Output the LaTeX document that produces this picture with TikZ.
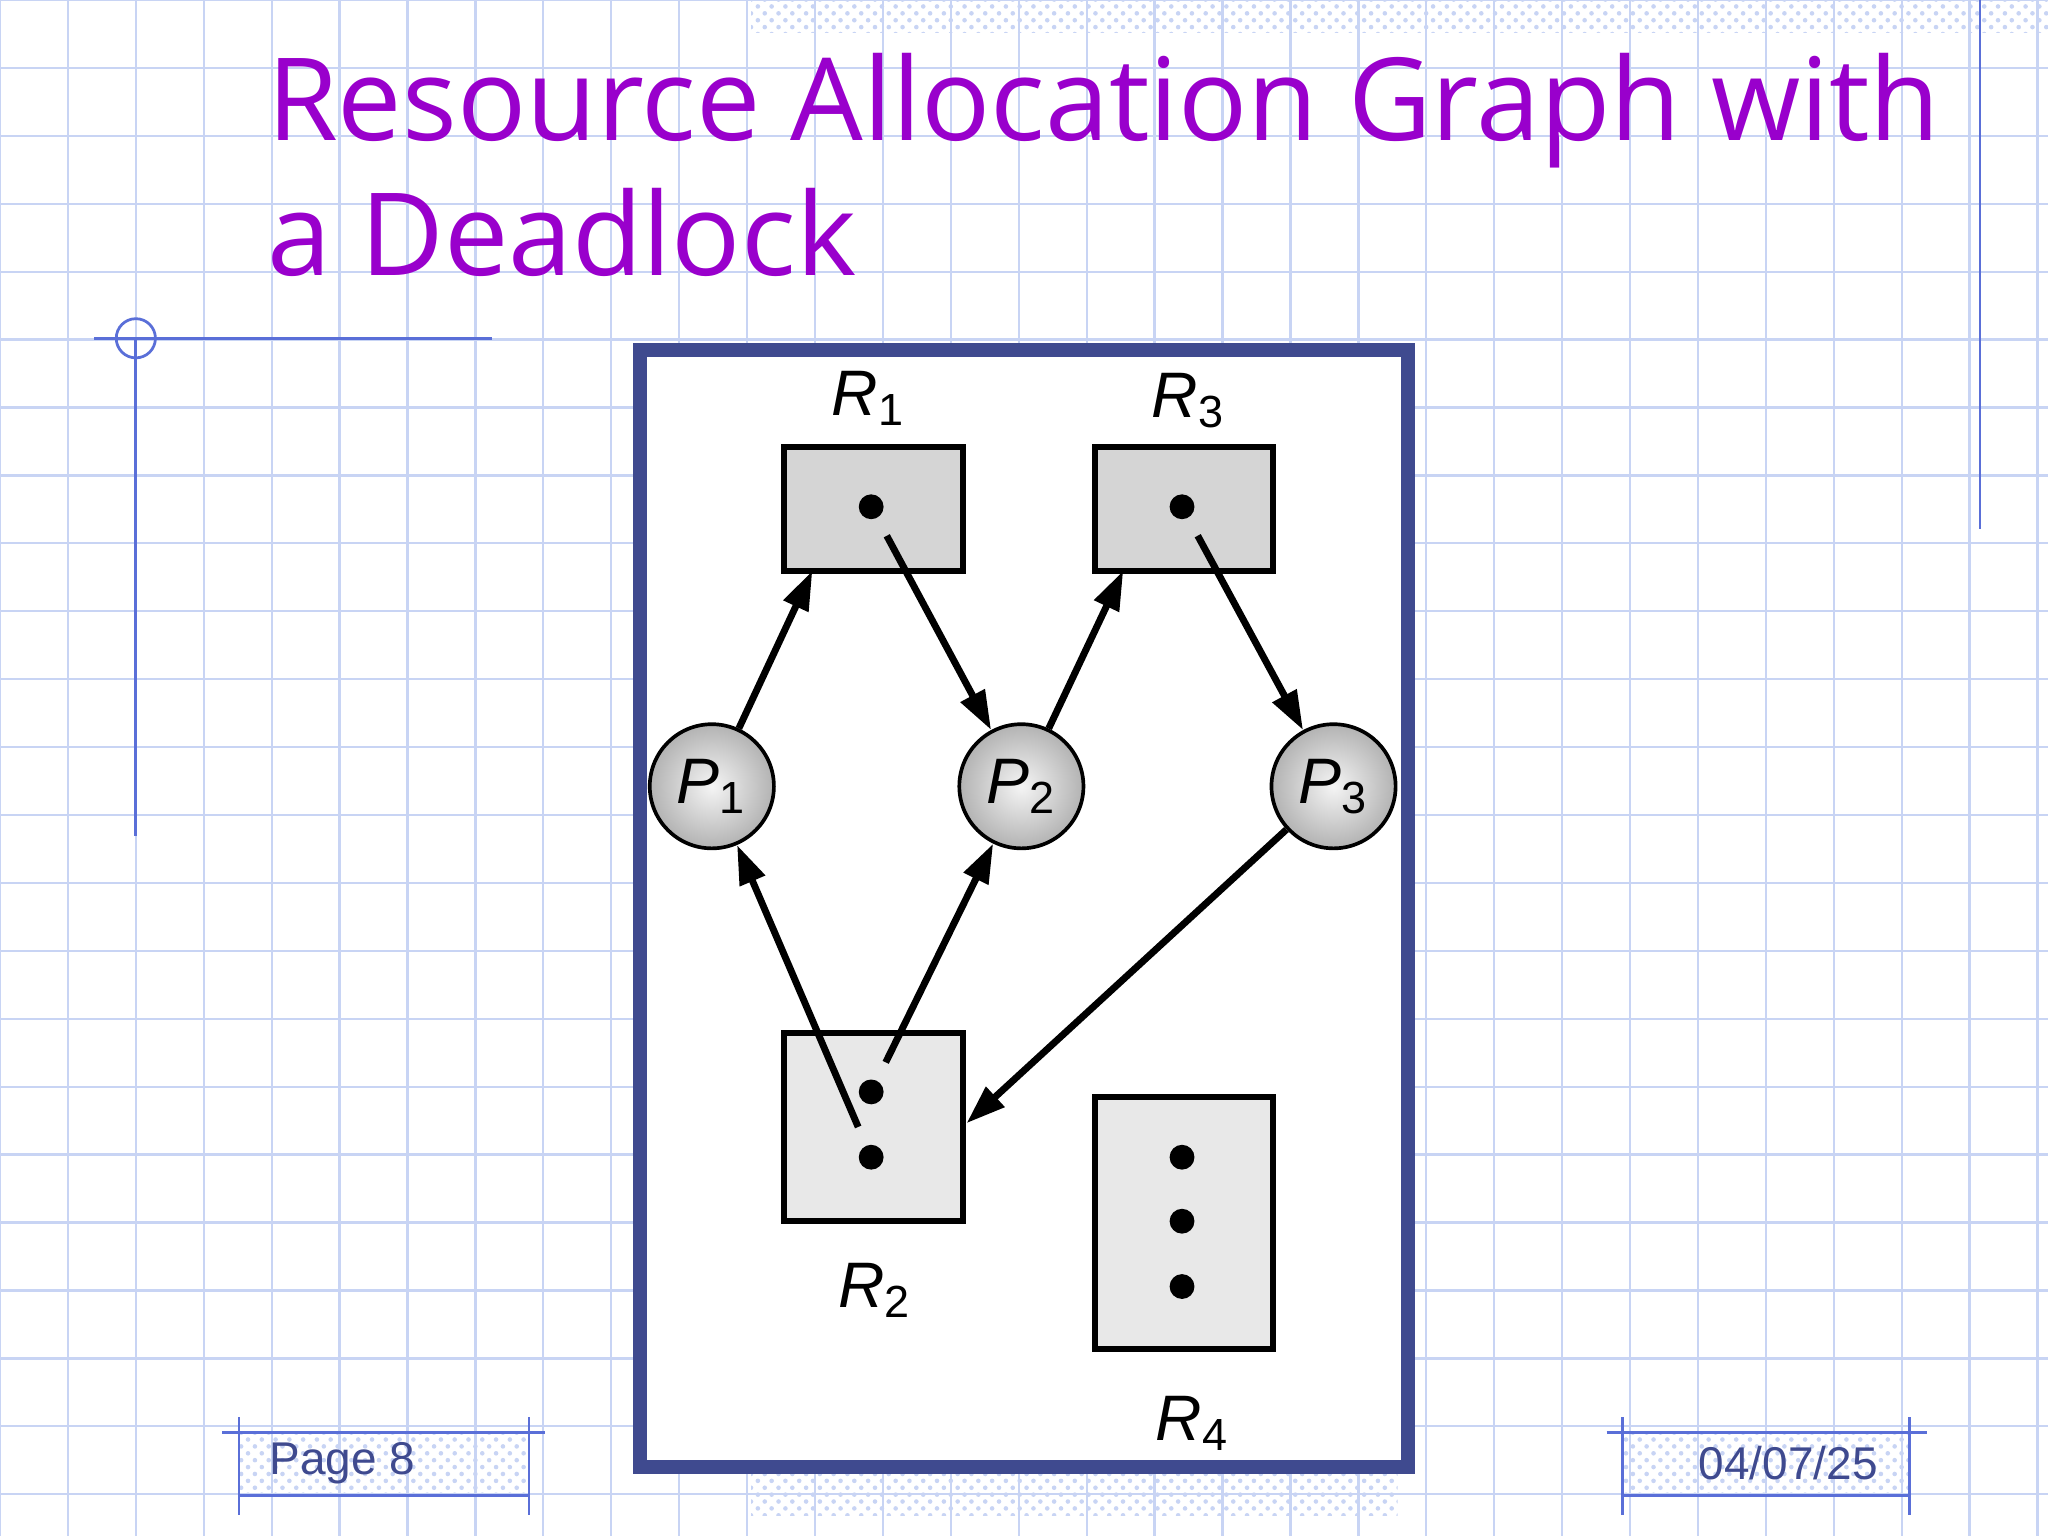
\documentclass[tikz,border=0pt]{standalone}
\usepackage{fontspec}
\setmainfont{Liberation Sans}
\newfontfamily\titlefont{Open Sans}
\usetikzlibrary{patterns,arrows.meta,shadings}
\definecolor{gridc}{HTML}{C8D4F4}
\definecolor{decoc}{HTML}{5A6FD8}
\definecolor{framec}{HTML}{3F4A8F}
\definecolor{titlec}{HTML}{9900CC}
\tikzset{
 res/.style={draw=black,line width=1.3pt,fill=#1},
 proc/.style={circle,draw=black,line width=0.8pt,minimum size=0.95cm,inner sep=0pt,shading=radial,inner color=gray!8,outer color=gray!60,font=\itshape\fontsize{14}{14}\selectfont},
 dotn/.style={circle,fill=black,minimum size=0.19cm,inner sep=0pt},
 lab/.style={font=\itshape\fontsize{14}{14}\selectfont},
 edge/.style={-{Triangle[length=0.3cm,width=0.2cm]},line width=1.5pt},
 deco/.style={draw=decoc,line width=0.6pt},
 tag/.style={deco,pattern=crosshatch dots,pattern color=gridc},
}
\begin{document}
\begin{tikzpicture}[x=0.01cm,y=-0.01cm]
\useasboundingbox (0,0) rectangle (1568,1176);
\fill[white] (0,0) rectangle (1568,1176);
\foreach \i in {0,...,30} \draw[gridc,line width=0.5pt] (\i*52,0) -- (\i*52,1176);
\foreach \j in {0,...,23} \draw[gridc,line width=0.5pt] (0,\j*52) -- (1568,\j*52);
\fill[pattern=crosshatch dots,pattern color=gridc] (575,0) rectangle (1568,25);
\fill[pattern=crosshatch dots,pattern color=gridc] (575,1125) rectangle (1070,1160);
\draw[deco] (1516,0) -- (1516,405);
\draw[deco] (72,259) -- (377,259);
\draw[deco] (104,259) -- (104,640);
\draw[deco] (104,259) circle (15);
% title
\node[anchor=north west,align=left,text=titlec,font=\titlefont\fontsize{25}{29.5}\selectfont] (title) at (192,28) {Resource Allocation Graph with\\a Deadlock};
% footers
\draw[tag] (183,1097) rectangle (405,1145);
\draw[deco] (170,1097) -- (417,1097) (183,1085) -- (183,1160) (405,1085) -- (405,1160);
\node[anchor=west,text=framec,font=\fontsize{10}{10}\selectfont] (pg) at (194,1120) {Page 8};
\draw[tag] (1242,1097) rectangle (1462,1145);
\draw[deco] (1230,1097) -- (1475,1097) (1242,1085) -- (1242,1160) (1462,1085) -- (1462,1160);
\node[anchor=east,text=framec,font=\fontsize{10}{10}\selectfont] (dt) at (1450,1120) {04/07/25};
% frame
\draw[framec,line width=3pt,fill=white] (490,268) rectangle (1078,1123);
% resources
\draw[res=gray!33] (600,342) rectangle (737,437);
\draw[res=gray!33] (838,342) rectangle (975,437);
\draw[res=gray!18] (600,791) rectangle (737,935);
\draw[res=gray!18] (838,840) rectangle (975,1033);
\coordinate (R1b) at (622,437); \coordinate (R3b) at (860,437); \coordinate (R2r) at (740,860);
\node[dotn] (d1) at (667,388) {};
\node[dotn] (d3) at (905,388) {};
\node[dotn] (d2a) at (667,836) {};
\node[dotn] (d2b) at (667,886) {};
\node[dotn] (d4a) at (905,886) {};
\node[dotn] (d4b) at (905,935) {};
\node[dotn] (d4c) at (905,985) {};
\node[lab] (l1) at (665,305) {R\textsubscript{\upshape 1}};
\node[lab] (l3) at (910,307) {R\textsubscript{\upshape 3}};
\node[lab] (l2) at (670,988) {R\textsubscript{\upshape 2}};
\node[lab] (l4) at (913,1090) {R\textsubscript{\upshape 4}};
% processes
\node[proc] (P1) at (545,602) {P\textsubscript{\upshape 1}};
\node[proc] (P2) at (782,602) {P\textsubscript{\upshape 2}};
\node[proc] (P3) at (1021,602) {P\textsubscript{\upshape 3}};
% edges
\draw[edge] (P1) -- (R1b);
\draw[edge,shorten <=0.15cm] (d1) -- (P2);
\draw[edge] (P2) -- (R3b);
\draw[edge,shorten <=0.15cm] (d3) -- (P3);
\draw[edge,shorten <=0.15cm] (d2b) -- (P1);
\draw[edge,shorten <=0.15cm] (d2a) -- (P2);
\draw[edge] (P3) -- (R2r);
\end{tikzpicture}
\end{document}
